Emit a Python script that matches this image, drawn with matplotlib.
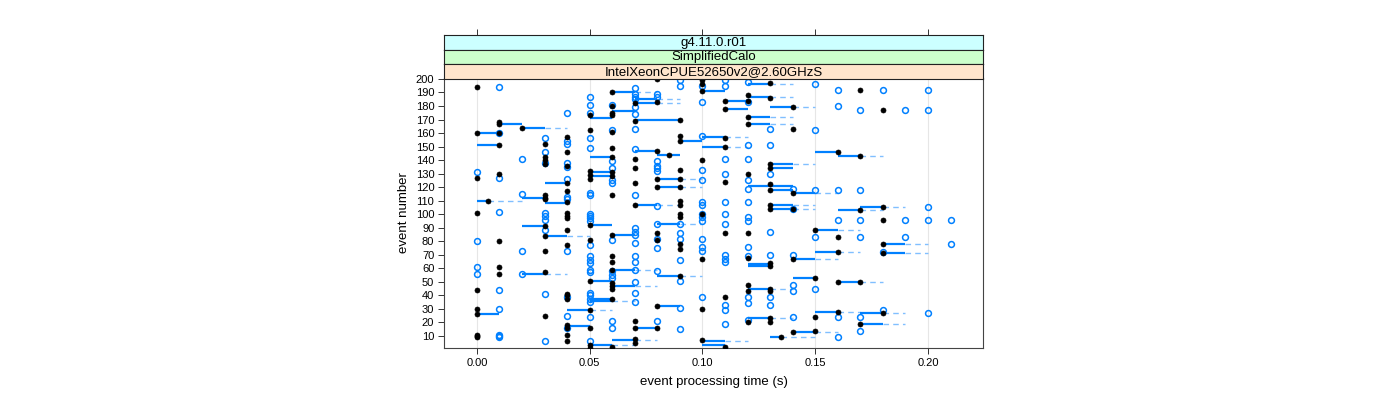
import matplotlib
matplotlib.use('Agg')
import matplotlib.pyplot as plt

plt.rcParams['font.family'] = ['Liberation Sans', 'DejaVu Sans']

# filled black points: processing time -> event numbers
black = {
    0.000: [194, 160, 127, 101, 44, 30, 26, 11, 10, 9],
    0.005: [110],
    0.010: [168, 167, 160, 151, 130, 80, 61, 56],
    0.020: [164],
    0.030: [152, 142, 140, 137, 114, 112, 111, 91, 84, 73, 57, 25],
    0.040: [157, 146, 136, 123, 117, 109, 101, 99, 97, 88, 77, 41, 40, 37, 18, 16, 11, 6],
    0.050: [173, 162, 132, 129, 126, 92, 81, 51, 29, 16, 3, 1],
    0.060: [190, 180, 175, 173, 161, 149, 142, 131, 128, 114, 85, 69, 65, 59, 49, 47, 45, 37, 2],
    0.070: [182, 169, 141, 134, 123, 107, 21, 16, 8, 5],
    0.080: [200, 183, 147, 126, 120, 86, 81, 32, 16],
    0.085: [144],
    0.090: [170, 158, 154, 133, 126, 120, 110, 107, 100, 98, 78, 74, 54],
    0.100: [199, 196, 191, 140, 100, 67, 30, 7],
    0.110: [184, 178, 156, 150, 124, 86, 39, 2],
    0.120: [188, 184, 172, 167, 130, 86, 68, 48, 43, 20],
    0.130: [197, 186, 137, 134, 122, 118, 107, 104, 64, 62, 45, 43, 23, 20],
    0.135: [9],
    0.140: [179, 163, 116, 104, 67, 13],
    0.150: [88, 53, 24, 14],
    0.160: [146, 83, 72, 50, 28],
    0.170: [192, 143, 103, 50, 19],
    0.180: [177, 105, 96, 78, 71, 27],
}

# open blue points: processing time -> event numbers
blue = {
    0.00: [131, 80, 61, 56],
    0.01: [194, 160, 127, 102, 44, 30, 11, 10, 9],
    0.02: [141, 115, 73, 56],
    0.03: [156, 146, 138, 101, 99, 96, 88, 41, 6],
    0.04: [175, 154, 152, 138, 135, 126, 113, 111, 73, 39, 25, 16],
    0.05: [187, 181, 175, 156, 149, 116, 114, 100, 99, 97, 95, 77, 69, 66, 64, 59, 57,
           42, 40, 37, 35, 24, 6],
    0.06: [181, 162, 139, 134, 125, 123, 81, 58, 55, 53, 21, 16],
    0.07: [193, 189, 187, 185, 179, 174, 163, 148, 114, 90, 87, 85, 79, 69, 65, 59, 50,
           42, 35],
    0.08: [189, 187, 139, 136, 134, 132, 106, 93, 82, 75, 58, 21],
    0.09: [199, 195, 93, 86, 82, 66, 51, 31, 15],
    0.10: [195, 183, 158, 133, 125, 109, 107, 100, 98, 95, 82, 76, 73, 39],
    0.11: [199, 195, 141, 130, 109, 100, 93, 70, 67, 65, 33, 29, 19],
    0.12: [198, 183, 151, 141, 125, 119, 109, 98, 95, 76, 69, 39, 34, 22],
    0.13: [163, 151, 130, 87, 70, 39, 33],
    0.14: [119, 104, 70, 48, 43, 24],
    0.15: [196, 162, 118, 83, 45],
    0.16: [192, 180, 118, 96, 24, 9],
    0.17: [177, 118, 96, 83, 24, 14],
    0.18: [192, 72, 29],
    0.19: [177, 96, 83],
    0.20: [192, 177, 105, 96, 27],
    0.21: [96, 78],
}

# ranges: solid from seg_start to seg_mid, dashed from seg_mid to seg_end (None = no dash)
seg_event = [160, 151, 110, 26, 167, 164, 112, 91, 56, 123, 108, 84, 29, 17,
             171, 142, 131, 128, 92, 51, 37, 36, 3, 190, 176, 85, 59, 47, 7,
             185, 182, 170, 147, 107, 16, 144, 126, 120, 93, 54, 32, 154,
             191, 157, 150, 6, 3, 178, 184, 196, 187, 172, 167, 121, 63, 62, 45, 23,
             137, 134, 118, 107, 104, 9, 179, 116, 67, 53, 13, 146, 88, 72, 28,
             143, 50, 103, 105, 27, 19, 78, 71]
seg_start = [0.00, 0.00, 0.00, 0.00, 0.01, 0.02, 0.02, 0.02, 0.02, 0.03, 0.03, 0.03, 0.04, 0.04,
             0.05, 0.05, 0.05, 0.05, 0.05, 0.05, 0.05, 0.05, 0.05, 0.06, 0.06, 0.06, 0.06, 0.06, 0.06,
             0.07, 0.07, 0.07, 0.07, 0.07, 0.07, 0.08, 0.08, 0.08, 0.08, 0.08, 0.08, 0.09,
             0.10, 0.10, 0.10, 0.10, 0.10, 0.11, 0.11, 0.12, 0.12, 0.12, 0.12, 0.12, 0.12, 0.12, 0.12, 0.12,
             0.13, 0.13, 0.13, 0.13, 0.13, 0.13, 0.13, 0.14, 0.14, 0.14, 0.14, 0.15, 0.15, 0.15, 0.15,
             0.16, 0.16, 0.16, 0.17, 0.17, 0.17, 0.18, 0.18]
seg_mid = [0.01, 0.01, 0.005, 0.01, 0.02, 0.03, 0.03, 0.03, 0.03, 0.04, 0.04, 0.04, 0.05, 0.05,
           0.06, 0.06, 0.06, 0.06, 0.06, 0.06, 0.06, 0.06, 0.06, 0.07, 0.07, 0.07, 0.07, 0.07, 0.07,
           0.08, 0.08, 0.09, 0.08, 0.08, 0.08, 0.09, 0.09, 0.09, 0.09, 0.09, 0.09, 0.10,
           0.11, 0.11, 0.11, 0.11, 0.11, 0.12, 0.12, 0.13, 0.13, 0.13, 0.13, 0.14, 0.13, 0.13, 0.13, 0.13,
           0.14, 0.14, 0.14, 0.14, 0.14, 0.135, 0.14, 0.15, 0.15, 0.15, 0.15, 0.16, 0.16, 0.16, 0.16,
           0.17, 0.17, 0.17, 0.18, 0.18, 0.18, 0.19, 0.19]
seg_end = [None, None, 0.02, None, None, 0.04, None, None, 0.04, None, None, 0.05, 0.06, None,
           None, None, None, None, None, None, None, 0.07, 0.07, 0.08, None, None, 0.08, 0.08, 0.08,
           0.09, 0.09, None, None, 0.09, None, None, 0.10, 0.10, 0.10, 0.10, None, None,
           None, 0.12, 0.12, 0.12, None, None, None, 0.14, 0.14, 0.14, 0.14, None, None, None, 0.14, 0.14,
           0.15, None, None, 0.15, 0.15, 0.15, 0.15, 0.16, 0.16, None, 0.16, None, 0.17, 0.17, 0.17,
           0.18, 0.18, 0.18, 0.19, 0.19, 0.19, 0.20, 0.20]

strip_labels = ['g4.11.0.r01', 'SimplifiedCalo', 'IntelXeonCPUE52650v2@2.60GHzS']
strip_colors = ['#CCFFFF', '#CCFFCC', '#FFE5CC']
xticks = [0.00, 0.05, 0.10, 0.15, 0.20]
yticks = list(range(10, 201, 10))

W, H = 1400, 400
fig = plt.figure(figsize=(14, 4), dpi=100)
L, R, B, T = 444, 983, 348, 78
ax = fig.add_axes([L / W, 1 - B / H, (R - L) / W, (B - T) / H])
ax.set_xlim(-0.0146, 0.2244)
ax.set_ylim(1.1, 200.7)

for x in xticks:
    ax.axvline(x, color='#E6E6E6', lw=0.8, zorder=0)

for x0, x1, x2, e in zip(seg_start, seg_mid, seg_end, seg_event):
    ax.plot([x0, x1], [e, e], color='#0080FF', lw=1.6, solid_capstyle='butt', zorder=2)
    if x2 is not None:
        ax.plot([x1, x2], [e, e], color='#80BFFF', lw=1.0, ls=(0, (4, 3)), zorder=2)

for t, evs in blue.items():
    ax.plot([t] * len(evs), evs, ls='none', marker='o', ms=4.2, mfc='none',
            mec='#0080FF', mew=1.1, zorder=3)
for t, evs in black.items():
    ax.plot([t] * len(evs), evs, ls='none', marker='o', ms=3.6, mfc='black',
            mec='black', mew=0.5, zorder=4)

ax.set_xticks(xticks)
ax.set_xticklabels(['%.2f' % x for x in xticks])
ax.set_yticks(yticks)
ax.tick_params(axis='both', labelsize=8, length=4, width=0.7, color='#333333', pad=3)
for s in ax.spines.values():
    s.set_color('#444444')
    s.set_linewidth(0.8)
ax.set_xlabel('event processing time (s)', fontsize=9.5, labelpad=6)
ax.set_ylabel('event number', fontsize=9.5, labelpad=4)

strip_h = 14.5
for i, (lab, col) in enumerate(zip(strip_labels, strip_colors)):
    top = 35 + i * strip_h
    sax = fig.add_axes([L / W, 1 - (top + strip_h) / H, (R - L) / W, strip_h / H])
    sax.set_facecolor(col)
    sax.set_xlim(ax.get_xlim())
    sax.set_yticks([])
    if i == 0:
        sax.set_xticks(xticks)
        sax.tick_params(axis='x', top=True, bottom=False, labeltop=False, labelbottom=False,
                        length=4, width=0.7, color='#333333')
    else:
        sax.set_xticks([])
    for s in sax.spines.values():
        s.set_color('#222222')
        s.set_linewidth(0.8)
    sax.text(0.5, 0.45, lab, transform=sax.transAxes, ha='center', va='center', fontsize=9.5)

fig.savefig('out.png', dpi=100)
